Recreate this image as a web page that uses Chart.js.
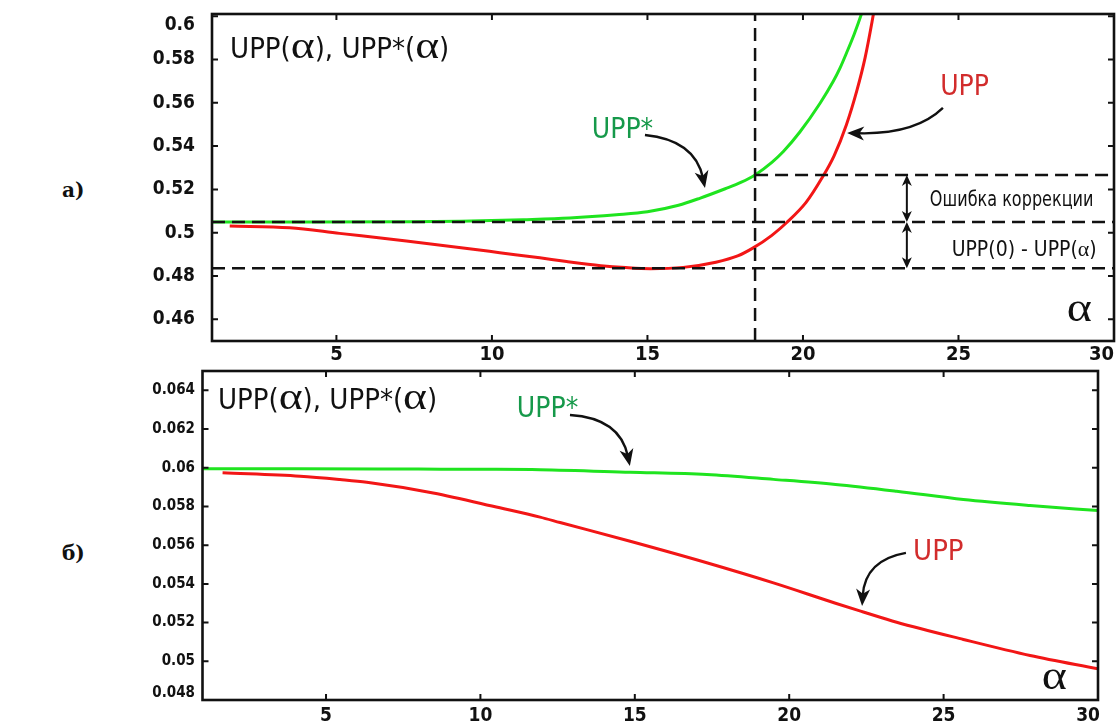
<!DOCTYPE html>
<html><head><meta charset="utf-8">
<script src="https://cdn.jsdelivr.net/npm/chart.js@4/dist/chart.umd.min.js"></script>
<style>
html,body{margin:0;padding:0;background:#fff;width:1118px;height:727px;overflow:hidden;position:relative}
canvas{position:absolute;left:0}
#c1{top:0}
#c2{top:360px}
.lab{position:absolute;font:bold 20px 'DejaVu Serif','Liberation Serif',serif;line-height:24px;color:#111}
</style></head><body>
<div class="lab" style="left:62px;top:178px">а)</div>
<div class="lab" style="left:62px;top:541px">б)</div>
<canvas id="c1" width="1118" height="368"></canvas>
<canvas id="c2" width="1118" height="367"></canvas>
<script>
// ---------- data ----------
const alphaTicks = [5, 10, 15, 20, 25, 30];
const yTicksTop = [0.46, 0.48, 0.5, 0.52, 0.54, 0.56, 0.58, 0.6];
const yTicksBottom = [0.048, 0.05, 0.052, 0.054, 0.056, 0.058, 0.06, 0.062, 0.064];

// (a) UPP*(alpha) and UPP(alpha)
const alphaTopStar = [1, 4, 7, 9, 10, 11, 12.5, 14, 15, 16, 16.7, 17.5, 18, 18.46, 19, 19.37, 19.9, 20.55, 20.97, 21.19, 21.4, 21.65, 21.88, 22.1];
const uppStarTop   = [0.5050, 0.5050, 0.5051, 0.5053, 0.5056, 0.5060, 0.5068, 0.5083, 0.5097, 0.5127, 0.5160, 0.5203, 0.5232, 0.5267, 0.5325, 0.5375, 0.5465, 0.5598, 0.5698, 0.5760, 0.5830, 0.5918, 0.6010, 0.6110];
const alphaTopUpp  = [1.57, 3.5, 5.1, 7.25, 9.4, 10.25, 11.54, 12.4, 13.5, 14.3, 15.1, 16.15, 17.2, 17.9, 18.4, 19.0, 19.47, 20.1, 20.6, 21.0, 21.4, 21.73, 22.0, 22.26, 22.5];
const uppTop       = [0.5031, 0.5023, 0.4997, 0.4962, 0.4924, 0.4908, 0.4884, 0.4867, 0.4848, 0.4839, 0.4834, 0.4840, 0.4864, 0.4893, 0.4930, 0.4988, 0.5046, 0.5140, 0.5250, 0.5355, 0.5500, 0.5655, 0.5810, 0.6005, 0.6200];
const upp0Level = 0.5050;        // UPP(0)
const uppMinLevel = 0.4836;      // min UPP(alpha)
const correctionLevel = 0.5267;  // UPP* at marker
const alphaMarker = 18.46;

// (б) UPP*(alpha) and UPP(alpha)
const alphaBotStar = [1, 4, 8, 10, 11.93, 14.85, 17.33, 19.49, 21.5, 23.48, 25.64, 27.8, 30];
const uppStarBot   = [0.05995, 0.05995, 0.05993, 0.05992, 0.0599, 0.05977, 0.05965, 0.0594, 0.05914, 0.05879, 0.05836, 0.05805, 0.05779];
const alphaBotUpp  = [1.65, 4.16, 5.45, 6.32, 8.47, 10.63, 11.93, 12.58, 14.85, 17.33, 19.49, 21.5, 22.4, 23.48, 25.64, 27.8, 30];
const uppBot       = [0.05974, 0.05956, 0.05939, 0.05925, 0.0587, 0.05793, 0.05745, 0.05717, 0.0562, 0.05509, 0.05405, 0.053, 0.05255, 0.05202, 0.05113, 0.0503, 0.04961];

// ---------- styles ----------
const NARROW = "'Liberation Sans Narrow','Arial Narrow','DejaVu Sans Condensed','Liberation Sans',sans-serif";
const SERIF = "'Liberation Serif','DejaVu Serif',serif";
const GREEN_LINE = '#1fe41f', RED_LINE = '#f21616', GREEN_TEXT = '#16994a', RED_TEXT = '#d22c2c', INK = '#111';

function pts(xs, ys) { return xs.map((x, i) => ({x: x, y: ys[i]})); }
function curve(label, data, color) {
  return {label, data, borderColor: color, borderWidth: 3, pointRadius: 0, fill: false,
          cubicInterpolationMode: 'monotone', order: 1};
}
function dashed(label, data) {
  return {label, data, borderColor: INK, borderWidth: 2.5, borderDash: [13, 7], pointRadius: 0,
          fill: false, tension: 0, order: 0};
}

function drawRich(ctx, x, centerY, mainSize, parts, color, gsx) {
  ctx.fillStyle = color;
  ctx.textBaseline = 'alphabetic'; ctx.textAlign = 'left';
  const base = centerY + 0.36 * mainSize;
  let cx = x;
  for (const p of parts) {
    ctx.font = p.f;
    const sx = (p.sx || 1) * (gsx || 1);
    const w = ctx.measureText(p.t).width * sx;
    ctx.save(); ctx.translate(cx, base); ctx.scale(sx, 1); ctx.fillText(p.t, 0, 0); ctx.restore();
    cx += w;
  }
}
function titleParts(size, aSize) {
  const n = size + 'px ' + NARROW, s = aSize + 'px ' + SERIF;
  return [{t: 'UPP(', f: n}, {t: 'α', f: s, sx: 1.2}, {t: '), UPP*(', f: n}, {t: 'α', f: s, sx: 1.2}, {t: ')', f: n}];
}
function head(ctx, tx, ty, fx, fy, len, half) {
  const a = Math.atan2(ty - fy, tx - fx), c = Math.cos(a), s = Math.sin(a);
  ctx.beginPath();
  ctx.moveTo(tx, ty);
  ctx.lineTo(tx - len * c + half * s, ty - len * s - half * c);
  ctx.lineTo(tx - len * 0.72 * c, ty - len * 0.72 * s);
  ctx.lineTo(tx - len * c - half * s, ty - len * s + half * c);
  ctx.closePath(); ctx.fill();
}
function curvedArrow(ctx, x, y, pts3) {
  const P = pts3.map(p => [x.getPixelForValue(p[0]), y.getPixelForValue(p[1])]);
  ctx.strokeStyle = INK; ctx.fillStyle = INK; ctx.lineWidth = 2.4;
  const [p0, c, p1] = P;
  const a = Math.atan2(p1[1] - c[1], p1[0] - c[0]);
  const e = [p1[0] - 10 * Math.cos(a), p1[1] - 10 * Math.sin(a)];
  ctx.beginPath(); ctx.moveTo(p0[0], p0[1]); ctx.quadraticCurveTo(c[0], c[1], e[0], e[1]); ctx.stroke();
  head(ctx, p1[0], p1[1], c[0], c[1], 17, 7);
}
function doubleArrow(ctx, px, y0, y1) {
  ctx.strokeStyle = INK; ctx.fillStyle = INK; ctx.lineWidth = 2;
  ctx.beginPath(); ctx.moveTo(px, y0 + 6); ctx.lineTo(px, y1 - 6); ctx.stroke();
  head(ctx, px, y0, px, y0 + 10, 11, 5);
  head(ctx, px, y1, px, y1 - 10, 11, 5);
}
function alphaGlyph(ctx, x, centerY, size, color) {
  ctx.fillStyle = color; ctx.textBaseline = 'alphabetic'; ctx.textAlign = 'left';
  ctx.font = size + 'px ' + SERIF;
  ctx.save(); ctx.translate(x, centerY + 0.23 * size); ctx.scale(1.2, 1); ctx.fillText('α', 0, 0); ctx.restore();
}

function framePlugin(o) {
  return {
    id: 'frame',
    afterDatasetsDraw(chart) {
      const {ctx, chartArea: a, scales: {x, y}} = chart;
      ctx.save();
      ctx.strokeStyle = INK; ctx.lineWidth = 2.6; ctx.setLineDash([]);
      ctx.strokeRect(a.left, a.top, a.right - a.left, a.bottom - a.top);
      ctx.lineWidth = 2;
      ctx.beginPath();
      for (const v of o.yTicks) {
        const p = y.getPixelForValue(v);
        ctx.moveTo(a.left, p); ctx.lineTo(a.left + 6, p);
        ctx.moveTo(a.right, p); ctx.lineTo(a.right - 6, p);
      }
      for (const v of alphaTicks) {
        const p = x.getPixelForValue(v);
        ctx.moveTo(p, a.bottom); ctx.lineTo(p, a.bottom - 6);
        ctx.moveTo(p, a.top); ctx.lineTo(p, a.top + 6);
      }
      ctx.stroke();
      // edge tick labels kept inside the frame height / width
      ctx.fillStyle = INK;
      ctx.font = 'bold ' + o.yFont + 'px ' + NARROW;
      ctx.textAlign = 'right'; ctx.textBaseline = 'middle';
      for (const e of o.yEdge) {
        let p = y.getPixelForValue(e.v);
        p = e.side === 'top' ? Math.max(p, a.top + e.off) : Math.min(p, a.bottom - e.off);
        ctx.fillText(String(e.v), a.left - o.yPad, p);
      }
      ctx.font = 'bold ' + o.xFont + 'px ' + NARROW;
      ctx.textAlign = 'right';
      const last = alphaTicks[alphaTicks.length - 1];
      ctx.fillText(String(last), x.getPixelForValue(last) + o.lastDx, a.bottom + o.xPad + o.xFont * 0.6);
      o.annotate(ctx, x, y, a);
      ctx.restore();
    }
  };
}

function makeChart(id, o) {
  const edgeVals = o.yEdge.map(e => e.v);
  const last = alphaTicks[alphaTicks.length - 1];
  return new Chart(document.getElementById(id), {
    type: 'line',
    data: {datasets: o.datasets},
    options: {
      responsive: false, animation: false, devicePixelRatio: 1,
      layout: {padding: {top: o.padTop, right: o.padRight, left: 0, bottom: 0}},
      plugins: {legend: {display: false}, tooltip: {enabled: false}},
      scales: {
        x: {
          type: 'linear', min: 1, max: 30,
          grid: {display: false, drawTicks: false}, border: {display: false},
          afterBuildTicks: s => { s.ticks = alphaTicks.map(v => ({value: v})); },
          afterFit: s => { s.height = o.xHeight; s.paddingLeft = 0; s.paddingRight = 0; },
          ticks: {font: {family: NARROW, weight: 'bold', size: o.xFont}, color: INK, padding: o.xPad,
                  maxRotation: 0, autoSkip: false, callback: v => v === last ? '' : String(v)}
        },
        y: {
          type: 'linear', min: o.yMin, max: o.yMax,
          grid: {display: false, drawTicks: false}, border: {display: false},
          afterBuildTicks: s => { s.ticks = o.yTicks.map(v => ({value: v})); },
          afterFit: s => { s.width = o.yWidth; s.paddingTop = 0; s.paddingBottom = 0; },
          ticks: {font: {family: NARROW, weight: 'bold', size: o.yFont}, color: INK, padding: o.yPad,
                  autoSkip: false, callback: v => edgeVals.includes(v) ? '' : String(v)}
        }
      }
    },
    plugins: [framePlugin(o)]
  });
}

// ---------- chart (а) ----------
const annTop = {
  title: [1.58, 0.5853], star: [13.21, 0.5483], starArrow: [[14.92, 0.5451], [16.53, 0.5428], [16.85, 0.5207]],
  upp: [24.41, 0.5682], uppArrow: [[24.50, 0.5576], [23.60, 0.5451], [21.42, 0.5461]],
  spanAlpha: 23.34, corr: [24.08, 0.5160], diff: [24.78, 0.4929], axisAlpha: [28.48, 0.4635]
};
makeChart('c1', {
  padTop: 14, padRight: 4, xHeight: 27, yWidth: 212, xFont: 20, yFont: 19, xPad: 2, yPad: 17,
  yMin: 0.45, yMax: 0.601, yTicks: yTicksTop, lastDx: 0,
  yEdge: [{v: 0.6, side: 'top', off: 11}],
  datasets: [
    curve('UPP*', pts(alphaTopStar, uppStarTop), GREEN_LINE),
    curve('UPP', pts(alphaTopUpp, uppTop), RED_LINE),
    dashed('UPP(0)', pts([1, 30], [upp0Level, upp0Level])),
    dashed('min UPP', pts([1, 30], [uppMinLevel, uppMinLevel])),
    dashed('UPP* marker', pts([alphaMarker, 30], [correctionLevel, correctionLevel])),
    dashed('alpha marker', pts([alphaMarker, alphaMarker], [0.45, 0.601]))
  ],
  annotate(ctx, x, y, a) {
    const X = v => x.getPixelForValue(v), Y = v => y.getPixelForValue(v);
    drawRich(ctx, X(annTop.title[0]), Y(annTop.title[1]), 29, titleParts(29, 38), INK);
    drawRich(ctx, X(annTop.star[0]), Y(annTop.star[1]), 28, [{t: 'UPP*', f: '28px ' + NARROW}], GREEN_TEXT);
    drawRich(ctx, X(annTop.upp[0]), Y(annTop.upp[1]), 28, [{t: 'UPP', f: '28px ' + NARROW}], RED_TEXT);
    curvedArrow(ctx, x, y, annTop.starArrow);
    curvedArrow(ctx, x, y, annTop.uppArrow);
    const px = X(annTop.spanAlpha);
    doubleArrow(ctx, px, Y(correctionLevel), Y(upp0Level));
    doubleArrow(ctx, px, Y(upp0Level), Y(uppMinLevel));
    drawRich(ctx, X(annTop.corr[0]), Y(annTop.corr[1]), 21, [{t: 'Ошибка коррекции', f: '21px ' + NARROW}], INK, 0.85);
    drawRich(ctx, X(annTop.diff[0]), Y(annTop.diff[1]), 21,
      [{t: 'UPP(0) - UPP(', f: '21px ' + NARROW}, {t: 'α', f: '22px ' + SERIF}, {t: ')', f: '21px ' + NARROW}], INK);
    alphaGlyph(ctx, X(annTop.axisAlpha[0]), Y(annTop.axisAlpha[1]), 40, INK);
  }
});

// ---------- chart (б) ----------
const annBot = {
  title: [1.50, 0.06360], star: [11.18, 0.06314], starArrow: [[12.90, 0.06273], [14.52, 0.06257], [14.84, 0.06009]],
  upp: [24.01, 0.05575], uppArrow: [[23.78, 0.05560], [22.45, 0.05523], [22.36, 0.05286]],
  axisAlpha: [28.18, 0.04903]
};
makeChart('c2', {
  padTop: 11, padRight: 20, xHeight: 27, yWidth: 202.5, xFont: 19, yFont: 15, xPad: 5, yPad: 7.5,
  yMin: 0.048, yMax: 0.065, yTicks: yTicksBottom, lastDx: 2,
  yEdge: [{v: 0.048, side: 'bottom', off: 7}],
  datasets: [
    curve('UPP*', pts(alphaBotStar, uppStarBot), GREEN_LINE),
    curve('UPP', pts(alphaBotUpp, uppBot), RED_LINE)
  ],
  annotate(ctx, x, y, a) {
    const X = v => x.getPixelForValue(v), Y = v => y.getPixelForValue(v);
    drawRich(ctx, X(annBot.title[0]), Y(annBot.title[1]), 29, titleParts(29, 38), INK);
    drawRich(ctx, X(annBot.star[0]), Y(annBot.star[1]), 28, [{t: 'UPP*', f: '28px ' + NARROW}], GREEN_TEXT);
    drawRich(ctx, X(annBot.upp[0]), Y(annBot.upp[1]), 29, [{t: 'UPP', f: '29px ' + NARROW}], RED_TEXT);
    curvedArrow(ctx, x, y, annBot.starArrow);
    curvedArrow(ctx, x, y, annBot.uppArrow);
    alphaGlyph(ctx, X(annBot.axisAlpha[0]), Y(annBot.axisAlpha[1]), 40, INK);
  }
});
</script>
</body></html>
